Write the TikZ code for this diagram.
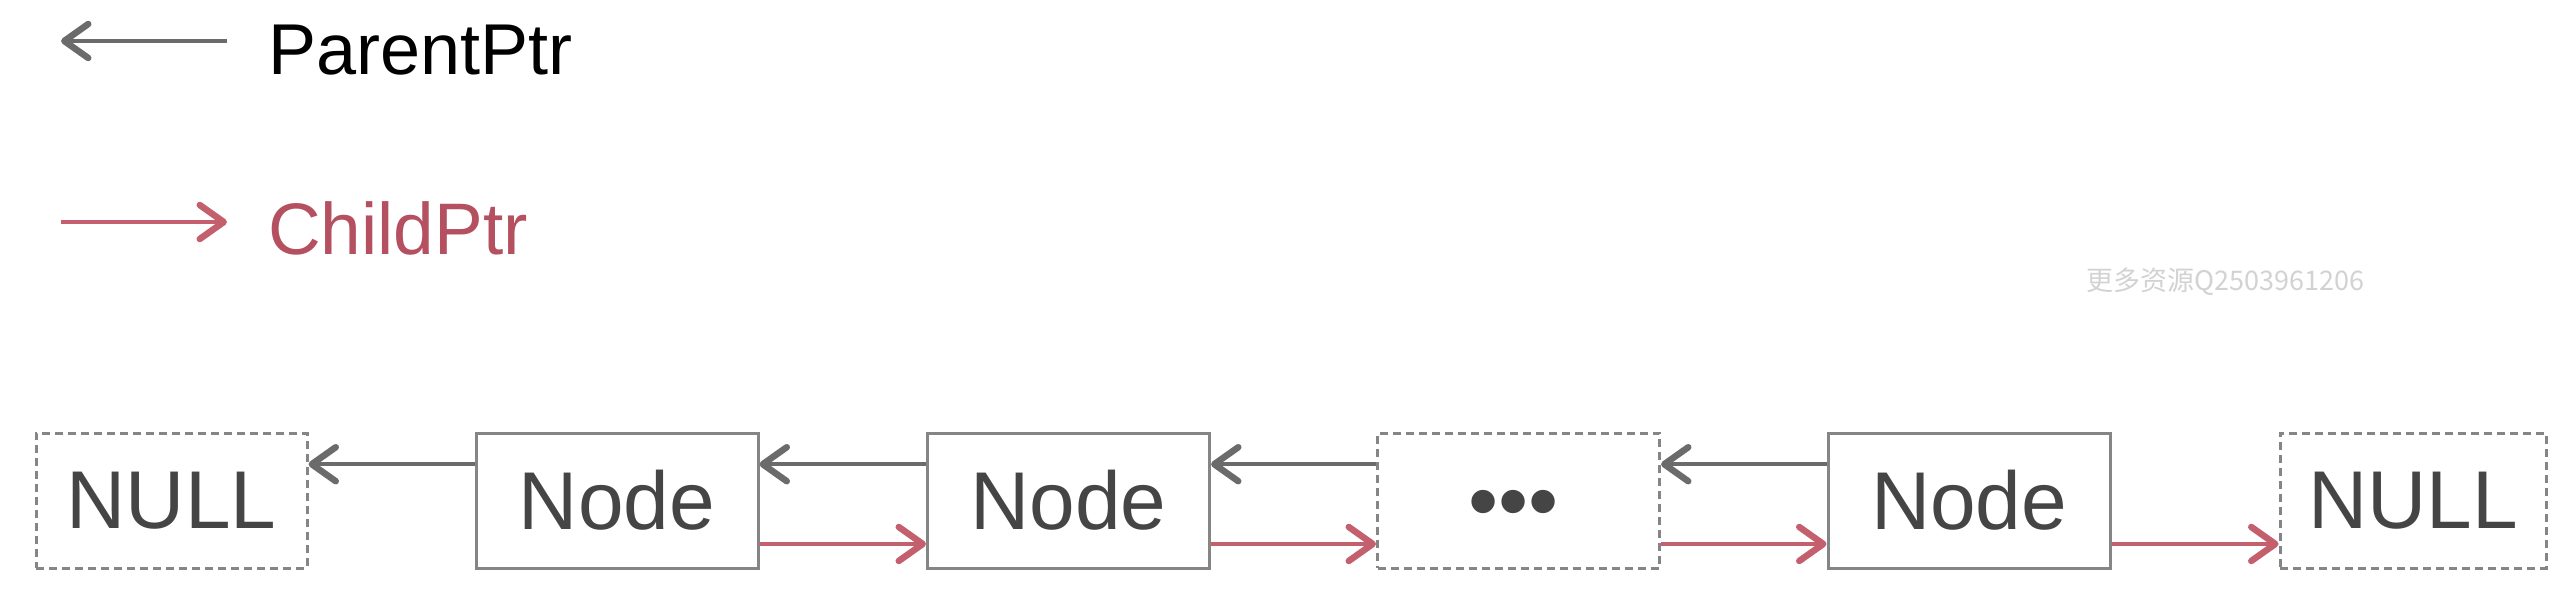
\documentclass[tikz,border=0pt]{standalone}
\usepackage{fontspec}
\setmainfont{Liberation Sans}
\newfontfamily\cjkwm{Noto Sans CJK SC}
\usetikzlibrary{arrows.meta,calc}
\definecolor{boxgray}{HTML}{858585}
\definecolor{arrgray}{HTML}{6B6B6B}
\definecolor{txtgray}{HTML}{454545}
\definecolor{childred}{HTML}{C4606E}
\definecolor{childtxt}{HTML}{B4505F}
\definecolor{wmgray}{HTML}{D2D2D2}
\tikzset{
  solidbox/.style={draw=boxgray, line width=3pt, minimum width=282pt, minimum height=135pt, inner sep=0pt,
    text=txtgray, font=\fontsize{82}{90}\selectfont},
  dashbox/.style={solidbox, dash pattern=on 8pt off 5pt},
  tipstyle/.style={-{Straight Barb[length=24pt,width=34pt,line width=6.5pt 0,round]}},
  parentarr/.style={draw=arrgray, line width=3.5pt, tipstyle},
  childarr/.style={draw=childred, line width=3.5pt, tipstyle},
}
\begin{document}
\begin{tikzpicture}[x=1pt,y=-1pt]
\useasboundingbox (0,0) rectangle (2574,598);
% legend
\coordinate (pa) at (227,41);
\coordinate (pb) at (61,41);
\draw[parentarr] (pa) -- (pb);
\node[anchor=base west, inner sep=0pt, font=\fontsize{72}{90}\selectfont] (ptxt) at (268,74) {ParentPtr};
\coordinate (ca) at (61,222);
\coordinate (cb) at (227,222);
\draw[childarr] (ca) -- (cb);
\node[anchor=base west, inner sep=0pt, text=childtxt, font=\fontsize{73}{90}\selectfont] (ctxt) at (268,254) {ChildPtr};
% watermark
\node[anchor=west, inner sep=0pt, text=wmgray, font=\cjkwm\fontsize{27}{30}\selectfont] (wm) at (2086,282) {更多资源Q2503961206};
% chain
\node[dashbox, minimum width=271pt] (null1) at (171.5,500.5) {NULL};
\node[solidbox] (n1) at (617,500.5) {Node};
\node[solidbox] (n2) at (1068.5,500.5) {Node};
\node[dashbox] (dots) at (1518.5,500.5) {};
\node[inner sep=0pt, text=txtgray, font=\fontsize{86}{90}\selectfont] (dotstxt) at ($(dots.center)+(-5,10)$) {•••};
\node[solidbox] (n3) at (1969,500.5) {Node};
\node[dashbox, minimum width=266pt] (null2) at (2413,500.5) {NULL};
% parent pointers
\foreach \a/\b in {n1/null1, n2/n1, dots/n2, n3/dots}{
  \draw[parentarr] ($(\a.north west)!0.237!(\a.south west)$) -- ($(\b.north east)!0.237!(\b.south east)$);
}
% child pointers
\foreach \a/\b in {n1/n2, n2/dots, dots/n3, n3/null2}{
  \draw[childarr] ($(\a.north east)!0.815!(\a.south east)$) -- ($(\b.north west)!0.815!(\b.south west)$);
}
\end{tikzpicture}
\end{document}
